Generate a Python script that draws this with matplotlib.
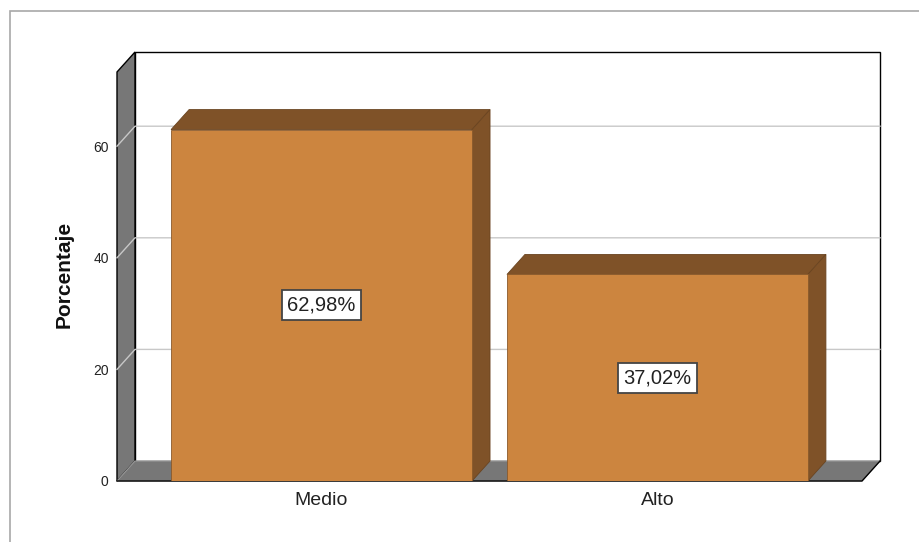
import matplotlib
matplotlib.use('Agg')
import matplotlib.pyplot as plt
from matplotlib.patches import Polygon, Rectangle
from matplotlib.lines import Line2D

categorias = ['Medio', 'Alto']
porcentajes = [62.98, 37.02]
etiquetas = ['62,98%', '37,02%']
ticks_y = [0, 20, 40, 60]

plt.rcParams['font.family'] = ['Liberation Sans', 'DejaVu Sans']

color_frente = '#CC853F'
color_lado = '#7F5228'
color_pared = '#777777'

fig = plt.figure(figsize=(9.19, 5.42), dpi=100)
ax = fig.add_axes([117 / 919, 61 / 542, 745 / 919, 409 / 542])
xmin, xmax = -0.609, 1.609
ymin, ymax = 0, 73.3
ax.set_xlim(xmin, xmax)
ax.set_ylim(ymin, ymax)
ax.patch.set_visible(False)
for s in ax.spines.values():
    s.set_visible(False)

# profundidad 3D: 18 px a la derecha, 20 px hacia arriba
pos = ax.get_position()
ancho_px = pos.width * fig.get_figwidth() * fig.dpi
alto_px = pos.height * fig.get_figheight() * fig.dpi
dx = 18 * (xmax - xmin) / ancho_px
dy = 20 * (ymax - ymin) / alto_px

# pared del fondo
ax.add_patch(Rectangle((xmin + dx, dy), xmax - xmin, ymax - ymin, fc='white',
                       ec='black', lw=1.0, clip_on=False, zorder=1))
# pared izquierda
ax.add_patch(Polygon([(xmin, 0), (xmin, ymax), (xmin + dx, ymax + dy), (xmin + dx, dy)],
                     closed=True, fc=color_pared, ec='black', lw=1.0, clip_on=False, zorder=2))
# lineas de cuadricula
for t in ticks_y[1:]:
    ax.add_line(Line2D([xmin, xmin + dx, xmax + dx], [t, t + dy, t + dy],
                       color='#c8c8c8', lw=1.0, clip_on=False, zorder=3))
# suelo
ax.add_patch(Polygon([(xmin, 0), (xmax, 0), (xmax + dx, dy), (xmin + dx, dy)],
                     closed=True, fc=color_pared, ec='#9a9a9a', lw=0.8, clip_on=False, zorder=4))
ax.add_line(Line2D([xmin, xmax, xmax + dx], [0, 0, dy], color='black', lw=1.0,
                   clip_on=False, zorder=4.5))

ancho = 0.896
for i, (v, et) in enumerate(zip(porcentajes, etiquetas)):
    x0 = i - ancho / 2
    x1 = i + ancho / 2
    ax.add_patch(Polygon([(x0, v), (x1, v), (x1 + dx, v + dy), (x0 + dx, v + dy)],
                         closed=True, fc=color_lado, ec='#6a4420', lw=0.6, zorder=5))
    ax.add_patch(Polygon([(x1, 0), (x1 + dx, dy), (x1 + dx, v + dy), (x1, v)],
                         closed=True, fc=color_lado, ec='#6a4420', lw=0.6, zorder=5))
    ax.add_patch(Rectangle((x0, 0), ancho, v, fc=color_frente, ec='#8a5a2c',
                           lw=0.6, zorder=6))
    ax.text(i, v / 2, et, ha='center', va='center', fontsize=14.5, color='#222222',
            zorder=7, bbox=dict(boxstyle='square,pad=0.27', fc='white',
                                ec='#444444', lw=1.3))

ax.set_xticks(range(len(categorias)))
ax.set_xticklabels(categorias, fontsize=14, color='#222222')
ax.set_yticks(ticks_y)
ax.set_yticklabels([str(t) for t in ticks_y], fontsize=10, color='#222222')
ax.tick_params(axis='both', length=0)
ax.tick_params(axis='x', pad=8)
ax.tick_params(axis='y', pad=6)
ax.set_ylabel('Porcentaje', fontsize=15, fontweight='bold', color='#111111')
ax.yaxis.set_label_coords(-0.058, 0.506)

# marco exterior
fig.add_artist(Rectangle((10 / 919, -0.05), 1.0, 531 / 542 + 0.05, transform=fig.transFigure,
                         fill=False, ec='#a8a8a8', lw=1.2))

fig.savefig('out.png', dpi=100)
